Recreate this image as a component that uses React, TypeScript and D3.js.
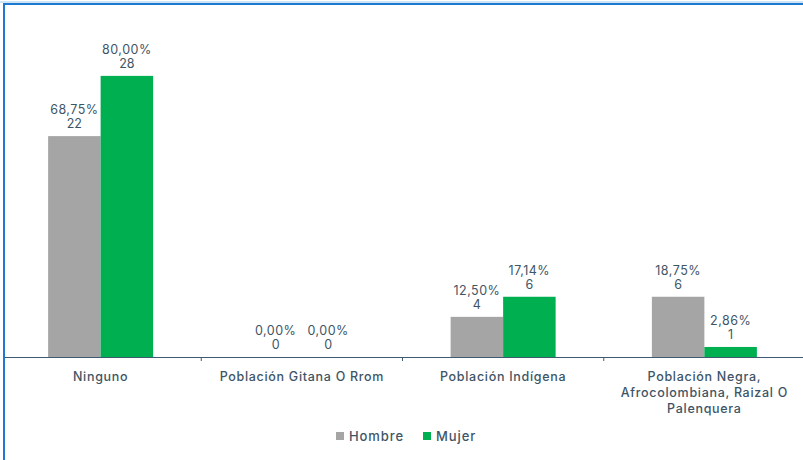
import React from "react";
import * as d3 from "d3";

const categories = [
  ["Ninguno"],
  ["Población Gitana O Rrom"],
  ["Población Indígena"],
  ["Población Negra,", "Afrocolombiana, Raizal O", "Palenquera"],
];
const seriesNames = ["Hombre", "Mujer"];
const hombreCounts = [22, 0, 4, 6];
const mujerCounts = [28, 0, 6, 1];
const hombrePct = ["68,75%", "0,00%", "12,50%", "18,75%"];
const mujerPct = ["80,00%", "0,00%", "17,14%", "2,86%"];
const colors = ["#A5A5A5", "#00B050"];

export default function App() {
  const W = 803, H = 460;
  const base = 357;
  const x0 = d3.scaleBand<number>().domain(d3.range(categories.length)).range([0, 805]).padding(0);
  const x1 = d3.scaleBand<string>().domain(seriesNames).range([0, 105]).padding(0);
  const y = d3.scaleLinear().domain([0, 35]).range([base, 5.6]);
  const txt = "#3E5566";
  const font = "Inter, 'Open Sans', sans-serif";
  const data = [
    { name: "Hombre", counts: hombreCounts, pct: hombrePct, color: colors[0] },
    { name: "Mujer", counts: mujerCounts, pct: mujerPct, color: colors[1] },
  ];
  return (
    <svg width={W} height={H} style={{ position: "absolute", left: 0, top: 0 }} fontFamily={font}>
      <rect x={0} y={0} width={W} height={H} fill="#fff" />
      <line x1={0} x2={W} y1={2} y2={2} stroke="#9CC8EE" strokeWidth={1} />
      <line x1={4} x2={4} y1={3} y2={H} stroke="#1E7AD0" strokeWidth={2} />
      <line x1={3} x2={W} y1={4} y2={4} stroke="#1E7AD0" strokeWidth={2} />
      {data.map((s) =>
        s.counts.map((v, i) => {
          const bx = x0(i)! + x0.bandwidth() / 2 - 52.5 + x1(s.name)!;
          const bw = x1.bandwidth();
          const top = y(v);
          const cx = bx + bw / 2;
          return (
            <g key={s.name + i}>
              {v > 0 && <rect x={bx} y={top} width={bw} height={base - top} fill={s.color} />}
              <text x={cx} y={top - 22} textAnchor="middle" fontSize={12.5} fill={txt} letterSpacing={0.5}>{s.pct[i]}</text>
              <text x={cx} y={top - 8} textAnchor="middle" fontSize={12.5} fill={txt}>{v}</text>
            </g>
          );
        })
      )}
      <line x1={5} x2={W} y1={base + 0.5} y2={base + 0.5} stroke="#3F5B72" strokeWidth={1.2} />
      {d3.range(1, categories.length).map((i) => (
        <line key={i} x1={x0(i)!} x2={x0(i)!} y1={base} y2={base + 4} stroke="#3F5B72" />
      ))}
      {categories.map((lines, i) => (
        <text key={i} textAnchor="middle" fontSize={12.5} fill={txt} fontWeight={500} letterSpacing={0.7}>
          {lines.map((l, j) => (
            <tspan key={j} x={x0(i)! + x0.bandwidth() / 2} y={381 + j * 16}>{l}</tspan>
          ))}
        </text>
      ))}
      <g>
        <rect x={336} y={432} width={8} height={8} fill={colors[0]} />
        <text x={349} y={440.5} fontSize={13} fill={txt} fontWeight={500} letterSpacing={0.9}>Hombre</text>
        <rect x={423} y={432} width={8} height={8} fill={colors[1]} />
        <text x={436} y={440.5} fontSize={13} fill={txt} fontWeight={500} letterSpacing={0.9}>Mujer</text>
      </g>
    </svg>
  );
}
